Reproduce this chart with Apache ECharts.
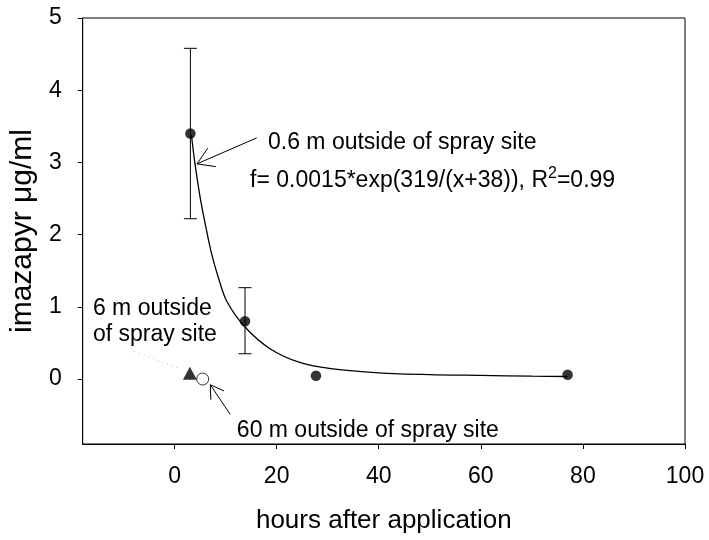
<!DOCTYPE html>
<html><head><meta charset="utf-8">
<script src="https://cdn.jsdelivr.net/npm/echarts@6/dist/echarts.min.js"></script>
<style>html,body{margin:0;padding:0;background:#fff}#c{width:709px;height:540px}</style>
</head><body><div id="c"></div>
<script>
// ---- data ----
const xTicks = [0, 20, 40, 60, 80, 100];
const yTicks = [0, 1, 2, 3, 4, 5];
const measHours = [3.1, 13.8, 27.7, 77];
const measConc  = [3.4, 0.8, 0.045, 0.06];
const errLow    = [2.22, 0.35, null, null];
const errHigh   = [4.58, 1.265, null, null];
const site6Hours = [3.0];
const site6Conc  = [0.08];
const site60Hours = [5.5];
const site60Conc  = [0.0];
const fitHours = [3.3, 4.0, 5.0, 6.0, 7.2, 8.6, 10.2, 13.8, 18.7, 24.5, 31, 40, 50, 60, 70, 77];
const fitConc  = [3.38, 2.98, 2.52, 2.15, 1.75, 1.40, 1.08, 0.72, 0.42, 0.23, 0.14, 0.085, 0.06, 0.05, 0.04, 0.035];

// ---- annotations (data coordinates) ----
const arrows = [
  [16.1, 3.34, 4.4, 2.98],
  [10.9, -0.49, 7.0, -0.08]
];
const dotted = [[-7.9, 0.38], [1.16, 0.14]];
const labels = [
  {text: '0.6 m outside of spray site', x: 18.3, y: 3.28},
  {text: 'f= 0.0015*exp(319/(x+38)), R{sup|2}=0.99', x: 14.8, y: 2.75},
  {text: '6 m outside', x: -16.0, y: 0.98},
  {text: 'of spray site', x: -16.0, y: 0.61},
  {text: '60 m outside of spray site', x: 12.2, y: -0.72}
];

const FONT = "'Liberation Sans', Arial, sans-serif";
const zip = (a, b) => a.map((v, i) => [v, b[i]]);
const errData = measHours.map((h, i) => [h, errLow[i], errHigh[i]]).filter(d => d[1] != null);

const chart = echarts.init(document.getElementById('c'), null, {renderer: 'canvas'});

function arrowShape(api, a, headLen) {
  const t = api.coord([a[0], a[1]]), h = api.coord([a[2], a[3]]);
  const ang = Math.atan2(t[1] - h[1], t[0] - h[0]);
  const da = 32 * Math.PI / 180;
  const st = {stroke: '#000', lineWidth: 1};
  return [
    {type: 'line', shape: {x1: t[0], y1: t[1], x2: h[0], y2: h[1]}, style: st},
    {type: 'line', shape: {x1: h[0], y1: h[1], x2: h[0] + headLen * Math.cos(ang + da), y2: h[1] + headLen * Math.sin(ang + da)}, style: st},
    {type: 'line', shape: {x1: h[0], y1: h[1], x2: h[0] + headLen * Math.cos(ang - da), y2: h[1] + headLen * Math.sin(ang - da)}, style: st}
  ];
}

chart.setOption({
  animation: false,
  backgroundColor: '#fff',
  textStyle: {fontFamily: FONT},
  grid: {left: 78, right: 24, top: 18, bottom: 96, show: true, borderColor: '#000', borderWidth: 1, backgroundColor: 'transparent'},
  xAxis: {
    type: 'value', min: -18, max: 100,
    name: 'hours after application', nameLocation: 'middle', nameGap: 64,
    nameTextStyle: {fontSize: 26, color: '#000', fontFamily: FONT},
    axisLine: {onZero: false, lineStyle: {color: '#000', width: 1}},
    axisTick: {show: true, inside: false, length: 5, customValues: xTicks, lineStyle: {color: '#000'}},
    axisLabel: {customValues: xTicks, fontSize: 23, color: '#000', margin: 21, fontFamily: FONT},
    splitLine: {show: false}
  },
  yAxis: {
    type: 'value', min: -0.9, max: 5,
    name: 'imazapyr \u03bcg/ml', nameLocation: 'middle', nameGap: 43,
    nameTextStyle: {fontSize: 30, color: '#000', fontFamily: FONT},
    axisLine: {onZero: false, lineStyle: {color: '#000', width: 1}},
    axisTick: {show: true, inside: false, length: 5, customValues: yTicks, lineStyle: {color: '#000'}},
    axisLabel: {customValues: yTicks, fontSize: 23, color: '#000', margin: 21, fontFamily: FONT},
    splitLine: {show: false}
  },
  series: [
    {
      name: 'fit', type: 'line', data: zip(fitHours, fitConc), smooth: 0.3,
      showSymbol: false, symbol: 'none', lineStyle: {color: '#000', width: 1.3}, z: 2
    },
    {
      name: 'error', type: 'custom', data: errData, z: 3,
      renderItem: function (params, api) {
        const x = api.value(0), lo = api.value(1), hi = api.value(2);
        const p1 = api.coord([x, hi]), p2 = api.coord([x, lo]);
        const w = 6.5, st = {stroke: '#000', lineWidth: 1};
        return {type: 'group', children: [
          {type: 'line', shape: {x1: p1[0], y1: p1[1], x2: p2[0], y2: p2[1]}, style: st},
          {type: 'line', shape: {x1: p1[0] - w, y1: p1[1], x2: p1[0] + w, y2: p1[1]}, style: st},
          {type: 'line', shape: {x1: p2[0] - w, y1: p2[1], x2: p2[0] + w, y2: p2[1]}, style: st}
        ]};
      }
    },
    {
      name: '0.6 m', type: 'scatter', data: zip(measHours, measConc), symbol: 'circle', symbolSize: 10.5,
      itemStyle: {color: '#000'}, z: 5
    },
    {
      name: '6 m', type: 'scatter', data: zip(site6Hours, site6Conc), symbol: 'triangle', symbolSize: [14, 13],
      itemStyle: {color: '#000'}, z: 5
    },
    {
      name: '60 m', type: 'scatter', data: zip(site60Hours, site60Conc), symbol: 'circle', symbolSize: 12,
      itemStyle: {color: '#fff', borderColor: '#000', borderWidth: 1}, z: 6
    },
    {
      name: 'annotations', type: 'custom', data: [[0]], z: 4, silent: true,
      renderItem: function (params, api) {
        const children = [];
        children.push(...arrowShape(api, arrows[0], 19));
        children.push(...arrowShape(api, arrows[1], 15));
        const d0 = api.coord(dotted[0]), d1 = api.coord(dotted[1]);
        children.push({type: 'line', shape: {x1: d0[0], y1: d0[1], x2: d1[0], y2: d1[1]},
          style: {stroke: '#bbb', lineWidth: 1, lineDash: [1, 4]}});
        labels.forEach(l => {
          const p = api.coord([l.x, l.y]);
          children.push({type: 'text', x: p[0], y: p[1], style: {
            text: l.text, fill: '#000', font: '23px ' + FONT, align: 'left', verticalAlign: 'middle',
            rich: {sup: {fontSize: 16, fontFamily: FONT, fill: '#000', verticalAlign: 'top', lineHeight: 30}}
          }});
        });
        return {type: 'group', children: children};
      }
    }
  ]
});
</script></body></html>
